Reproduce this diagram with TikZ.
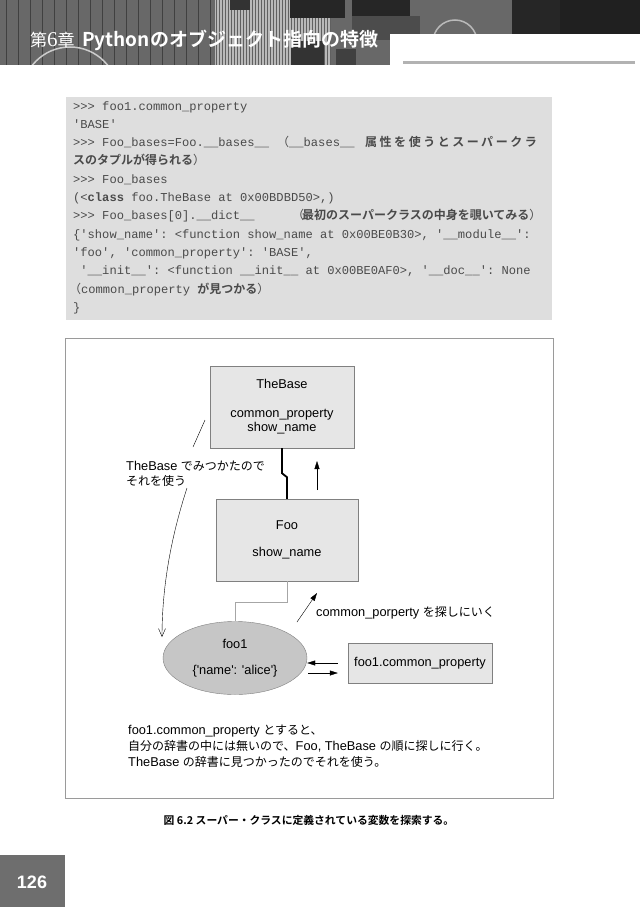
\documentclass[tikz,border=0pt]{standalone}
\usepackage{fontspec}
\setmainfont{Liberation Sans}[Ligatures=TeXOff]
\setmonofont{Liberation Mono}
\newfontfamily\jp{Noto Sans CJK JP}
\newfontfamily\jpb{Noto Sans CJK JP Bold}
\newfontfamily\jpbwide{Noto Sans CJK JP Bold}[LetterSpace=21]
\newfontfamily\chapnum{Liberation Serif}
\usetikzlibrary{arrows.meta,shapes.geometric,positioning}

\definecolor{codebg}{HTML}{DEDEDE}
\definecolor{codefg}{HTML}{4A4A4A}
\definecolor{boxfill}{HTML}{E6E6E6}
\definecolor{boxline}{HTML}{808080}
\definecolor{objfill}{HTML}{C6C6C6}
\definecolor{framegray}{HTML}{9A9A9A}
\definecolor{hdgray}{HTML}{686868}
\definecolor{pagegray}{HTML}{6E6E6E}

\newcommand\codefont{\ttfamily\fontsize{12.1}{14}\selectfont}
\newcommand\dgfont{\fontsize{12.8}{14}\selectfont}
\newcommand\J[1]{{\jp\fontsize{12}{14}\selectfont #1}}
\newcommand\JB[1]{{\jpb\fontsize{12}{14}\selectfont #1}}

\begin{document}
\begin{tikzpicture}[x=1pt,y=-1pt,
    code/.style={anchor=base west, inner sep=0, text=codefg, font=\codefont},
    box/.style={draw=boxline, fill=boxfill, minimum width=144, minimum height=82,
      align=center, inner sep=2, font=\dgfont},
    obj/.style={ellipse, draw=boxline, fill=objfill, minimum width=144,
      minimum height=73, inner sep=0, align=center, font=\dgfont},
    arr/.style={-{Triangle[length=8,width=5]}},
    lbl/.style={anchor=west, inner sep=0, align=left, font=\dgfont}]
\useasboundingbox (0,0) rectangle (640,907);
\fill[white] (0,0) rectangle (640,907);

% header band
\begin{scope}
\clip (0,0) rectangle (640,65);
\fill[hdgray] (0,0) rectangle (640,65);
\foreach \x in {6,18,...,210}
  \draw[gray!50!black, line width=0.8] (\x,0) -- (\x,65);
\draw[gray!40, line width=1.5] (70,95) circle (48);
\fill[gray!55] (215,0) rectangle (330,65);
\foreach \x in {216,219,...,330}
  \draw[gray!75!black, line width=0.4] (\x,0) -- (\x,65);
\fill[black!80] (230,0) rectangle (250,10);
\fill[black!85] (290,0) rectangle (345,18);
\fill[black!85] (352,0) rectangle (410,16);
\fill[black!70] (352,16) rectangle (420,40);
\fill[black!80] (291,41) rectangle (324,65);
\fill[black!75] (336,49) rectangle (356,65);
\fill[black!85] (512,0) rectangle (560,40);
\fill[gray!25!black] (560,0) rectangle (640,40);
\draw[gray!55, line width=1.5] (455,42) circle (22);
\end{scope}
\fill[white] (390,34) rectangle (640,66);
\fill[gray!60] (403,61) rectangle (635,64);

\node[anchor=base west, inner sep=0, text=white] (chap) at (30,47)
  {\jp\fontsize{17}{17}\selectfont 第{\chapnum\fontsize{21}{21}\selectfont 6}章};
\node[anchor=base west, inner sep=0, text=white] (title) at (82,47)
  {\jpb\fontsize{19}{19}\selectfont Pythonのオブジェクト指向の特徴};

% code listing
\fill[codebg] (66,97) rectangle (552,320);
\node[code] (c0) at (73,110) {>>> foo1.common\_property};
\node[code] (c1) at (73,128.3) {'BASE'};
\node[code] (c2) at (73,146.6) {>>> Foo\_bases=Foo.\_\_bases\_\_};
\node[code] (c2b) at (277,146.6) {\J{（}\_\_bases\_\_};
\node[code] (c2c) at (365,146.6) {\jpbwide\fontsize{12}{14}\selectfont 属性を使うとスーパークラ};
\node[code] (c3) at (73,164.9) {\JB{スのタプルが得られる}\J{）}};
\node[code] (c4) at (73,183.2) {>>> Foo\_bases};
\node[code] (c5) at (73,201.5) {(<\textbf{class} foo.TheBase at 0x00BDBD50>,)};
\node[code] (c6) at (73,219.8) {>>> Foo\_bases[0].\_\_dict\_\_};
\node[code] (c6b) at (292,219.8) {\J{（}\hspace{-2pt}\JB{最初のスーパークラスの中身を覗いてみる}\J{）}};
\node[code] (c7) at (73,238.1) {\{'show\_name': <function show\_name at 0x00BE0B30>, '\_\_module\_\_':};
\node[code] (c8) at (73,256.4) {'foo', 'common\_property': 'BASE',};
\node[code] (c9) at (73,274.7) {\ '\_\_init\_\_': <function \_\_init\_\_ at 0x00BE0AF0>, '\_\_doc\_\_': None};
\node[code] (c10) at (69,293) {\J{（}common\_property \JB{が見つかる}\J{）}};
\node[code] (c11) at (73,311.3) {\}};

% figure frame
\draw[framegray, fill=white] (65,338) rectangle (553,798);

\node[box] (base) at (282,407) {TheBase\\[15pt]common\_property\\show\_name};
\node[box, minimum width=142] (foo) at (287,540) {Foo\\[13pt]show\_name};
\node[obj] (obj) at (235,658) {foo1\\[12pt]\{'name': 'alice'\}};
\node[box, minimum height=40] (expr) at (420,663) {foo1.common\_property};

\draw[line width=1.8] (base.south) -- ++(0,25) -- ++(5,4) -- (foo.north);
\draw[gray!70] (foo.south) -- ++(0,21) -| (obj.north);

\coordinate (upa) at (317,490);
\coordinate (upb) at (317,461);
\draw[arr] (upa) -- (upb);
\coordinate (sa) at (297,622);
\coordinate (sb) at (317,593);
\draw[arr] (sa) -- (sb);
\node[lbl] (seek) at (316,613) {common\_porperty \J{を探しにいく}};

\draw[arr] ([xshift=-10pt]expr.west) -- ([shift={(0,5)}]obj.east);
\draw[arr] ([shift={(1,15)}]obj.east) -- ([shift={(-10,10)}]expr.west);

% lookup path back down to foo1
\coordinate (la) at (205,420);
\coordinate (lb) at (193,447);
\coordinate (lc) at (187,488);
\coordinate (ld) at (162,637);
\draw[thin] (la) -- (lb);
\draw[thin, -{Straight Barb[length=8,width=7]}] (lc) .. controls (170,540) and (162,590) .. (ld);
\node[lbl, font=\fontsize{12.8}{15}\selectfont] (found) at (126,474)
  {TheBase \J{でみつかたので}\\\J{それを使う}};

\node[anchor=north west, inner sep=0, align=left, font=\fontsize{12.8}{16}\selectfont] (note) at (128,725)
  {foo1.common\_property \J{とすると、}\\
   \J{自分の辞書の中には無いので、}Foo, TheBase \J{の順に探しに行く。}\\
   TheBase \J{の辞書に見つかったのでそれを使う。}};

\node[inner sep=0, font=\jpb\fontsize{10.8}{12}\selectfont] (cap) at (309,820)
  {図 6.2 スーパー・クラスに定義されている変数を探索する。};

% page number
\fill[pagegray] (0,855) rectangle (65,907);
\node[text=white, font=\bfseries\fontsize{18}{18}\selectfont] (pnum) at (32,882) {126};
\end{tikzpicture}
\end{document}
